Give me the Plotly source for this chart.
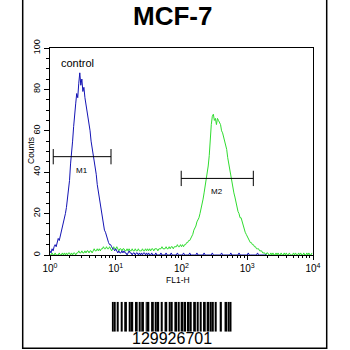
import numpy as np
import plotly.graph_objects as go

# ---- histogram data: 256 log channels spanning 10^0 .. 10^4 ----
channels_per_decade = 64

control_counts = [
    2, 1, 3, 2, 4, 5, 4, 6, 8, 7, 9, 11, 13, 15, 18, 20,
    23, 27, 31, 36, 44, 52, 55, 62, 70, 73, 78, 76, 83, 88, 82, 85,
    79, 81, 76, 73, 70, 66, 63, 60, 55, 52, 48, 45, 42, 39, 34, 31,
    27, 24, 20, 17, 15, 12, 11, 9, 7, 6, 5, 5, 4, 3, 3, 2,
    3, 2, 1, 2, 1, 1, 2, 1, 2, 1, 1, 0, 1, 2, 1, 1,
    0, 1, 1, 0, 1, 1, 0, 1, 0, 1, 0, 1, 1, 0, 1, 0,
    1, 0, 0, 1, 0, 0, 0, 1, 0, 0, 0, 0, 1, 0, 0, 0,
    0, 1, 0, 0, 0, 0, 1, 0, 0, 0, 0, 0, 1, 0, 0, 0,
    0, 0, 1, 0, 0, 0, 0, 0, 1, 0, 0, 0, 0, 0, 0, 1,
    0, 0, 0, 0, 0, 0, 1, 0, 0, 0, 0, 0, 0, 0, 1, 0,
    0, 0, 0, 0, 0, 0, 0, 1, 0, 0, 0, 0, 0, 0, 0, 0,
    1, 0, 0, 0, 0, 0, 0, 0, 1, 0, 0, 0, 0, 0, 0, 0,
    0, 1, 0, 0, 0, 0, 0, 0, 0, 0, 1, 0, 0, 0, 0, 0,
    0, 0, 0, 0,
]

stained_counts = [
    0, 0, 1, 0, 0, 1, 0, 0, 0, 1, 0, 0, 1, 0, 1, 0,
    1, 0, 1, 1, 0, 1, 0, 1, 1, 0, 1, 1, 2, 1, 1, 2,
    1, 1, 2, 1, 2, 2, 1, 2, 2, 1, 2, 3, 2, 2, 3, 2,
    3, 2, 3, 3, 4, 3, 3, 4, 3, 3, 4, 3, 2, 3, 4, 3,
    3, 4, 3, 2, 3, 3, 2, 3, 3, 2, 2, 3, 2, 3, 2, 2,
    3, 2, 2, 3, 2, 2, 3, 2, 2, 2, 3, 2, 2, 3, 2, 3,
    2, 3, 2, 3, 3, 2, 3, 3, 3, 2, 3, 3, 3, 4, 3, 3,
    3, 4, 3, 3, 4, 3, 4, 4, 3, 4, 4, 4, 5, 4, 4, 5,
    4, 5, 4, 5, 5, 6, 6, 7, 7, 8, 9, 10, 12, 13, 14, 16,
    17, 18, 20, 22, 24, 27, 30, 33, 37, 40, 43, 48, 57, 63, 67, 68,
    65, 66, 63, 66, 65, 64, 63, 60, 59, 57, 55, 53, 51, 47, 44, 40,
    38, 35, 32, 30, 28, 25, 23, 21, 20, 18, 18, 16, 14, 12, 11, 10,
    9, 8, 7, 6, 6, 5, 5, 4, 4, 3, 3, 3, 2, 2, 2, 1,
    1, 1, 0, 1, 1, 0, 0, 1, 0, 1, 0, 0, 1, 0, 1, 0,
    0, 1, 0, 0, 1, 0, 1, 0, 0, 1, 0, 0, 0, 1, 0, 1,
    0, 0, 1, 0, 1, 0, 0, 1, 0, 0, 1, 0, 1, 0, 0, 1,
]

# marker gates: label, low / high fluorescence and count level
gate_labels = ["M1", "M2"]
gate_low = [1.12, 99]
gate_high = [8.47, 1237]
gate_level = [47.5, 37]

x_tick_values = [1, 10, 100, 1000, 10000]
x_tick_text = ["10<sup>0</sup>", "10<sup>1</sup>", "10<sup>2</sup>",
               "10<sup>3</sup>", "10<sup>4</sup>"]
y_tick_values = [0, 20, 40, 60, 80, 100]

# Code 128 (set B) bar/space module widths for "129926701"
barcode_text = "129926701"
barcode_symbols = ["211214", "123221", "223211", "321122", "321122",
                   "223211", "223112", "312131", "123122", "123221",
                   "112214", "2331112"]

FONT = "Liberation Sans, Arial, sans-serif"
W = H = 350


def px_x(p):
    return p / W


def px_y(p):
    return 1 - p / H


def fl(n):
    return [10 ** (c / channels_per_decade) for c in range(n)]


fig = go.Figure()

fig.add_trace(go.Scatter(x=fl(len(stained_counts)), y=stained_counts, mode="lines",
                         line=dict(color="#30dc30", width=1), hoverinfo="skip",
                         showlegend=False))
fig.add_trace(go.Scatter(x=fl(len(control_counts)), y=control_counts, mode="lines",
                         line=dict(color="#1414b4", width=1), hoverinfo="skip",
                         showlegend=False))

# gate bars with end caps
cap = 3.7
for lab, lo, hi, lv in zip(gate_labels, gate_low, gate_high, gate_level):
    fig.add_trace(go.Scatter(
        x=[lo, lo, None, lo, hi, None, hi, hi],
        y=[lv - cap, lv + cap, None, lv, lv, None, lv + cap, lv - cap],
        mode="lines", line=dict(color="black", width=1),
        hoverinfo="skip", showlegend=False))
    fig.add_annotation(x=(np.log10(lo) + np.log10(hi)) / 2, y=lv - 6.5,
                       xref="x", yref="y", text=lab, showarrow=False,
                       xanchor="center", yanchor="middle",
                       font=dict(family=FONT, size=8, color="black"))

# barcode drawn as bars on its own axes
widths = []
for sym in barcode_symbols:
    widths.extend(int(ch) for ch in sym)
bar_x, bar_w = [], []
pos = 0
for i, w in enumerate(widths):
    if i % 2 == 0:
        bar_x.append(pos + w / 2)
        bar_w.append(w)
    pos += w
total_modules = pos
fig.add_trace(go.Bar(x=bar_x, y=[1] * len(bar_x), width=bar_w,
                     marker=dict(color="black", line=dict(width=0)),
                     xaxis="x2", yaxis="y2", hoverinfo="skip", showlegend=False))

fig.update_layout(
    width=W, height=H,
    margin=dict(l=0, r=0, t=0, b=0, pad=0, autoexpand=False),
    paper_bgcolor="white", plot_bgcolor="white",
    font=dict(family=FONT, color="black"),
    xaxis=dict(
        type="log", range=[0, 4], domain=[px_x(50), px_x(313)],
        automargin=False,
        showline=True, mirror=True, linecolor="black", linewidth=1,
        showgrid=False, zeroline=False,
        ticks="outside", ticklen=4, tickcolor="black",
        tickvals=x_tick_values, ticktext=x_tick_text,
        tickfont=dict(family=FONT, size=10),
        minor=dict(ticks="outside", ticklen=2, tickcolor="black",
                   tickvals=[m * d for d in [1, 10, 100, 1000] for m in range(2, 10)]),
    ),
    yaxis=dict(
        range=[0, 100], domain=[px_y(255), px_y(48)],
        automargin=False,
        showline=True, mirror=True, linecolor="black", linewidth=1,
        showgrid=False, zeroline=False,
        ticks="outside", ticklen=5, tickcolor="black",
        tickvals=y_tick_values, tickangle=-90,
        tickfont=dict(family=FONT, size=9),
        minor=dict(ticks="outside", ticklen=3, tickcolor="black", dtick=5),
    ),
    xaxis2=dict(range=[0, total_modules], domain=[px_x(111.7), px_x(231.7)],
                visible=False, anchor="y2", automargin=False),
    yaxis2=dict(range=[0, 1], domain=[px_y(331.7), px_y(301.7)],
                visible=False, anchor="x2", automargin=False),
    shapes=[dict(type="rect", xref="paper", yref="paper",
                 x0=px_x(22.7), x1=px_x(326.7), y0=px_y(348.3), y1=1.05,
                 line=dict(color="black", width=1.5), fillcolor="rgba(0,0,0,0)")],
)


def label(text, x, y, size, angle=0):
    fig.add_annotation(x=px_x(x), y=px_y(y), xref="paper", yref="paper",
                       text=text, showarrow=False, textangle=angle,
                       xanchor="center", yanchor="middle",
                       font=dict(family=FONT, size=size, color="black"))


label("<b>MCF-7</b>", 172, 16, 26)
label("control", 77, 63, 11)
label("FL1-H", 178, 279.5, 8.5)
label("Counts", 31, 150, 8.5, -90)
label(barcode_text, 171.7, 338, 16)

fig.write_html("out.html")
